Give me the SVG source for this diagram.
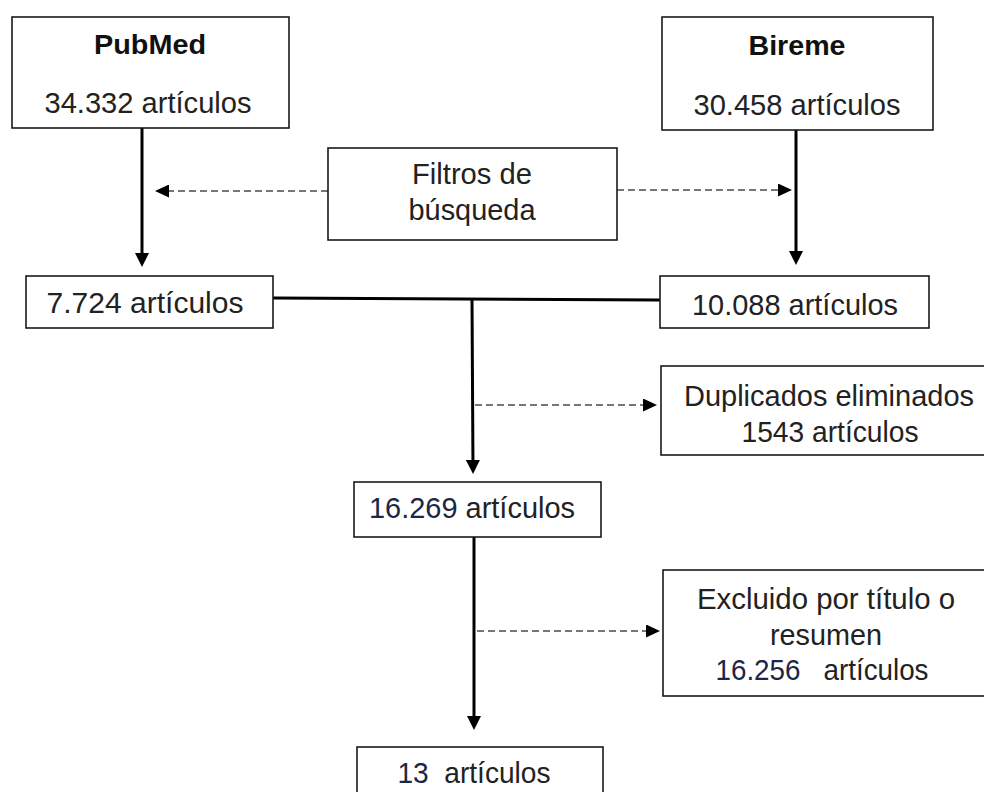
<svg xmlns="http://www.w3.org/2000/svg" width="984" height="792" viewBox="0 0 984 792">
<style>
.box{fill:#fff;stroke:#1a1a1a;stroke-width:1.6}
.t{font-family:"Liberation Sans",Arial,sans-serif;font-size:30px;fill:#222;text-anchor:middle}
.b{font-weight:bold;font-size:28.5px;fill:#111}
.n{fill:#1c2646}
.thick{stroke:#000;stroke-width:3;fill:none}
.dash{stroke:#4a4a4a;stroke-width:1.6;stroke-dasharray:7,4;fill:none}
</style>
<defs>
<marker id="ah" viewBox="0 0 14 14" refX="10" refY="7" markerWidth="14" markerHeight="14" markerUnits="userSpaceOnUse" orient="auto"><path d="M0,0 L14,7 L0,14 z" fill="#000"/></marker>
<marker id="ahd" viewBox="0 0 14 13" refX="10" refY="6.5" markerWidth="14" markerHeight="13" markerUnits="userSpaceOnUse" orient="auto"><path d="M0,0 L14,6.5 L0,13 z" fill="#000"/></marker>
</defs>
<rect width="984" height="792" fill="#fff"/>
<g id="connectors">
<line class="thick" x1="142" y1="128" x2="142" y2="263" marker-end="url(#ah)"/>
<line class="thick" x1="796" y1="130" x2="796" y2="261" marker-end="url(#ah)"/>
<line class="dash" x1="328" y1="191" x2="159" y2="191" marker-end="url(#ahd)"/>
<line class="dash" x1="617" y1="190" x2="788" y2="190" marker-end="url(#ahd)"/>
<line class="thick" x1="273" y1="298" x2="660" y2="300"/>
<line class="thick" x1="472" y1="299" x2="473" y2="470" marker-end="url(#ah)"/>
<line class="dash" x1="475" y1="405" x2="653" y2="405" marker-end="url(#ahd)"/>
<line class="thick" x1="474" y1="537" x2="474" y2="726" marker-end="url(#ah)"/>
<line class="dash" x1="477" y1="631" x2="656" y2="631" marker-end="url(#ahd)"/>
</g>
<g id="pubmed">
<rect class="box" x="12" y="17" width="277" height="111"/>
<text class="t b" x="150" y="54" textLength="112" lengthAdjust="spacingAndGlyphs">PubMed</text>
<text class="t" x="148" y="113" textLength="207" lengthAdjust="spacingAndGlyphs">34.332 artículos</text>
</g>
<g id="bireme">
<rect class="box" x="662" y="17" width="271" height="113"/>
<text class="t b" x="797" y="55" textLength="97" lengthAdjust="spacingAndGlyphs">Bireme</text>
<text class="t" x="797" y="115" textLength="207" lengthAdjust="spacingAndGlyphs">30.458 artículos</text>
</g>
<g id="filtros">
<rect class="box" x="328" y="148" width="289" height="92"/>
<text class="t" x="472" y="184" textLength="120" lengthAdjust="spacingAndGlyphs">Filtros de</text>
<text class="t" x="472" y="220" textLength="127" lengthAdjust="spacingAndGlyphs">búsqueda</text>
</g>
<g id="pubmed-filtrado">
<rect class="box" x="26" y="276" width="247" height="52"/>
<text class="t" x="145" y="313" textLength="197" lengthAdjust="spacingAndGlyphs">7.724 artículos</text>
</g>
<g id="bireme-filtrado">
<rect class="box" x="660" y="276" width="269" height="52"/>
<text class="t" x="795" y="315" textLength="206" lengthAdjust="spacingAndGlyphs">10.088 artículos</text>
</g>
<g id="duplicados">
<rect class="box" x="661" y="366" width="330" height="89"/>
<text class="t" x="829" y="406" textLength="290" lengthAdjust="spacingAndGlyphs">Duplicados eliminados</text>
<text class="t" x="830" y="442" textLength="177" lengthAdjust="spacingAndGlyphs">1543 artículos</text>
</g>
<g id="combinados">
<rect class="box" x="354" y="482" width="247" height="55"/>
<text class="t" x="472" y="518" textLength="206" lengthAdjust="spacingAndGlyphs"><tspan class="n">16.269</tspan> artículos</text>
</g>
<g id="excluido">
<rect class="box" x="663" y="570" width="330" height="126"/>
<text class="t" x="826" y="609" textLength="258" lengthAdjust="spacingAndGlyphs">Excluido por título o</text>
<text class="t" x="826" y="645" textLength="112" lengthAdjust="spacingAndGlyphs">resumen</text>
<text class="t" x="822" y="680" xml:space="preserve" textLength="213" lengthAdjust="spacingAndGlyphs"><tspan class="n">16.256</tspan>   artículos</text>
</g>
<g id="final">
<rect class="box" x="357" y="747" width="246" height="60"/>
<text class="t" x="474" y="783" xml:space="preserve" textLength="153" lengthAdjust="spacingAndGlyphs"><tspan class="n">13</tspan>  artículos</text>
</g>
</svg>
